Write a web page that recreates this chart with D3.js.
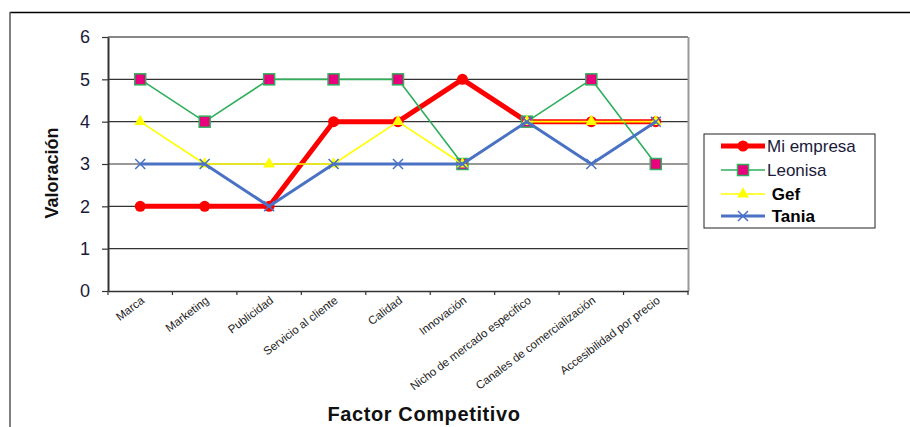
<!DOCTYPE html>
<html><head><meta charset="utf-8">
<script src="https://cdn.jsdelivr.net/npm/d3@7"></script>
<style>body{margin:0;background:#fff}svg{display:block;font-family:"Liberation Sans",Arial,sans-serif}</style>
</head><body><svg id="c" width="910" height="427"></svg>
<script>
const categories = ["Marca","Marketing","Publicidad","Servicio al cliente","Calidad","Innovación","Nicho de mercado especifico","Canales de comercialización","Accesibilidad por precio"];
const miEmpresa = [2,2,2,4,4,5,4,4,4];
const leonisa   = [5,4,5,5,5,3,4,5,3];
const gef       = [4,3,3,3,4,3,4,4,4];
const tania     = [3,3,2,3,3,3,4,3,4];
const yTicks = [0,1,2,3,4,5,6];
const seriesNames = ["Mi empresa","Leonisa"," Gef"," Tania"];

const svg = d3.select("#c");
const L=108, R=688, T=37, B=291;
const x = d3.scaleBand().domain(categories).range([L,R]);
const y = d3.scaleLinear().domain([0,6]).range([B,T]);

// outer frame
svg.append("line").attr("x1",10).attr("x2",910).attr("y1",12.5).attr("y2",12.5).attr("stroke","#000").attr("stroke-width",1.5);
svg.append("line").attr("x1",10).attr("x2",10).attr("y1",12).attr("y2",427).attr("stroke","#555").attr("stroke-width",1.5);

// gridlines
svg.append("g").selectAll("line").data(yTicks.filter(d=>d>0)).join("line")
  .attr("x1",L).attr("x2",R).attr("y1",d=>y(d)).attr("y2",d=>y(d))
  .attr("stroke",d=>d===6?"#888":"#333").attr("stroke-width",d=>d===6?2:1.2);
// right border
svg.append("line").attr("x1",R+0.5).attr("x2",R+0.5).attr("y1",T).attr("y2",B).attr("stroke","#999").attr("stroke-width",2);

// y axis
const ya = svg.append("g").attr("transform",`translate(${L},0)`)
  .call(d3.axisLeft(y).tickValues(yTicks).tickFormat(d3.format("d")).tickSize(6).tickPadding(12).tickSizeOuter(0));
ya.select(".domain").attr("stroke","#333").attr("stroke-width",2);
ya.selectAll(".tick line").attr("stroke","#333").attr("stroke-width",1.2);
ya.selectAll("text").attr("font-size",18).attr("fill","#1a1a3a").attr("font-family","Liberation Sans, Arial, sans-serif");

// x axis
const xa = svg.append("g").attr("transform",`translate(0,${B})`)
  .call(d3.axisBottom(x).tickSize(0).tickSizeOuter(0));
xa.select(".domain").attr("stroke","#333").attr("stroke-width",1.5);
xa.selectAll("text").attr("font-size",11.5).attr("fill","#222").attr("font-family","Liberation Sans, Arial, sans-serif")
  .attr("text-anchor","end").attr("dy",null).attr("y",0).attr("x",0)
  .attr("transform","translate(5,11) rotate(-37)");
// boundary tick marks
svg.append("g").selectAll("line").data(d3.range(categories.length+1)).join("line")
  .attr("x1",i=>L+i*x.bandwidth()).attr("x2",i=>L+i*x.bandwidth())
  .attr("y1",B).attr("y2",B+4).attr("stroke","#333").attr("stroke-width",1.2);

// titles
svg.append("text").attr("transform","translate(58,173) rotate(-90)").attr("text-anchor","middle")
  .attr("font-size",18).attr("font-weight","bold").attr("fill","#111").text("Valoración");
svg.append("text").attr("x",424).attr("y",421).attr("text-anchor","middle")
  .attr("font-size",20).attr("font-weight","bold").attr("fill","#111").attr("letter-spacing",0.6).text("Factor Competitivo");

const cx = (d,i)=>x(categories[i])+x.bandwidth()/2;
const line = d3.line().x((d,i)=>cx(d,i)).y(d=>y(d));

function drawMarker(g, type, px, py){
  if(type==="circle") g.append("circle").attr("cx",px).attr("cy",py).attr("r",5.5).attr("fill","#ff0000");
  else if(type==="square") g.append("rect").attr("x",px-5.5).attr("y",py-5.5).attr("width",11).attr("height",11).attr("fill","#e8007d").attr("stroke","#2fae5c").attr("stroke-width",1.5);
  else if(type==="triangle") g.append("path").attr("d",d3.symbol(d3.symbolTriangle,60)()).attr("transform",`translate(${px},${py})`).attr("fill","#ffff00");
  else if(type==="x") g.append("path").attr("d",`M${px-5},${py-5}L${px+5},${py+5}M${px-5},${py+5}L${px+5},${py-5}`).attr("stroke","#4a72c4").attr("stroke-width",1.5);
}

const series = [
  {name:seriesNames[0], data:miEmpresa, color:"#ff0000", w:5, m:"circle", bold:false},
  {name:seriesNames[1], data:leonisa, color:"#2fae5c", w:1.6, m:"square", bold:false},
  {name:seriesNames[2], data:gef, color:"#ffff00", w:1.6, m:"triangle", bold:true},
  {name:seriesNames[3], data:tania, color:"#4a72c4", w:3, m:"x", bold:true}
];
series.forEach(s=>{
  const g = svg.append("g");
  g.append("path").attr("d",line(s.data)).attr("fill","none").attr("stroke",s.color).attr("stroke-width",s.w).attr("stroke-linejoin","round");
  s.data.forEach((d,i)=>drawMarker(g,s.m,cx(d,i),y(d)));
});

// legend
const lg = svg.append("g");
lg.append("rect").attr("x",704).attr("y",134).attr("width",171).attr("height",94).attr("fill","#fff").attr("stroke","#222").attr("stroke-width",1);
series.forEach((s,i)=>{
  const yy = [146,170,194,216][i];
  lg.append("line").attr("x1",721).attr("x2",765).attr("y1",yy).attr("y2",yy).attr("stroke",s.color).attr("stroke-width",s.w);
  drawMarker(lg,s.m,743,yy);
  lg.append("text").attr("x",767).attr("y",yy+6).attr("font-size",17).attr("font-weight",s.bold?"bold":"normal")
    .attr("fill",s.bold?"#000":"#1a1a3a").attr("xml:space","preserve").style("white-space","pre").text(s.name);
});
</script></body></html>
